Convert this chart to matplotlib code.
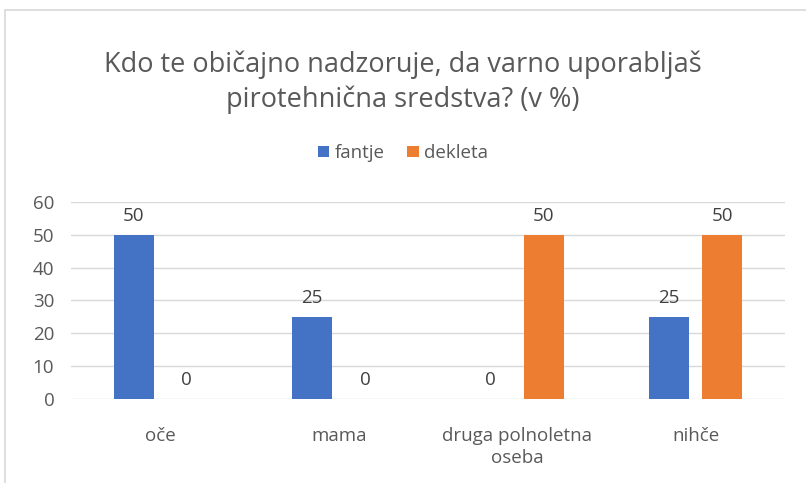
import numpy as np
import matplotlib.pyplot as plt
from matplotlib.patches import Rectangle

# Podatki
kategorije = ['oče', 'mama', 'druga polnoletna\noseba', 'nihče']
fantje = [50, 25, 0, 25]
dekleta = [0, 0, 50, 50]
y_ticks = [0, 10, 20, 30, 40, 50, 60]

modra = '#4472C4'
oranzna = '#ED7D31'
siva = '#595959'

plt.rcParams['font.family'] = ['Open Sans', 'DejaVu Sans']

fig = plt.figure(figsize=(8.06, 4.83), dpi=100)
ax = fig.add_axes([0.088, 0.174, 0.886, 0.408])

# okvir grafa
fig.patches.append(Rectangle((5 / 806, -0.1), 1.2, 1 - 10 / 483 + 0.1,
                             transform=fig.transFigure, fill=False,
                             edgecolor='#D9D9D9', linewidth=1.2))

x = np.arange(len(kategorije))
w = 0.224
off = 0.149
b1 = ax.bar(x - off, fantje, w, color=modra, label='fantje', zorder=3)
b2 = ax.bar(x + off, dekleta, w, color=oranzna, label='dekleta', zorder=3)

for bars in (b1, b2):
    for r in bars:
        h = r.get_height()
        ax.annotate(f'{h:g}', (r.get_x() + r.get_width() / 2, h),
                    xytext=(0, 7), textcoords='offset points',
                    ha='center', va='bottom', fontsize=13.5, color='#404040')

ax.set_xlim(-0.5, len(kategorije) - 0.5)
ax.set_ylim(0, 60)
ax.set_yticks(y_ticks)
ax.set_xticks(x)
ax.set_xticklabels(kategorije, fontsize=13.5, color=siva, linespacing=1.3)
ax.tick_params(axis='y', labelsize=13.5, labelcolor=siva, length=0, pad=12)
ax.tick_params(axis='x', length=0, pad=20)
ax.grid(axis='y', color='#D9D9D9', linewidth=1, zorder=0)
for s in ax.spines.values():
    s.set_visible(False)

fig.text(0.5, 0.83, 'Kdo te običajno nadzoruje, da varno uporabljaš\npirotehnična sredstva? (v %)',
         ha='center', va='center', fontsize=19.5, color=siva, linespacing=1.3)

fig.legend(handles=[b1, b2], loc='center', bbox_to_anchor=(0.5, 0.683), ncol=2,
           frameon=False, fontsize=13.5, labelcolor=siva, handlelength=0.6,
           handleheight=0.6, handletextpad=0.3, columnspacing=1.2)

fig.savefig('out.png', dpi=100)
